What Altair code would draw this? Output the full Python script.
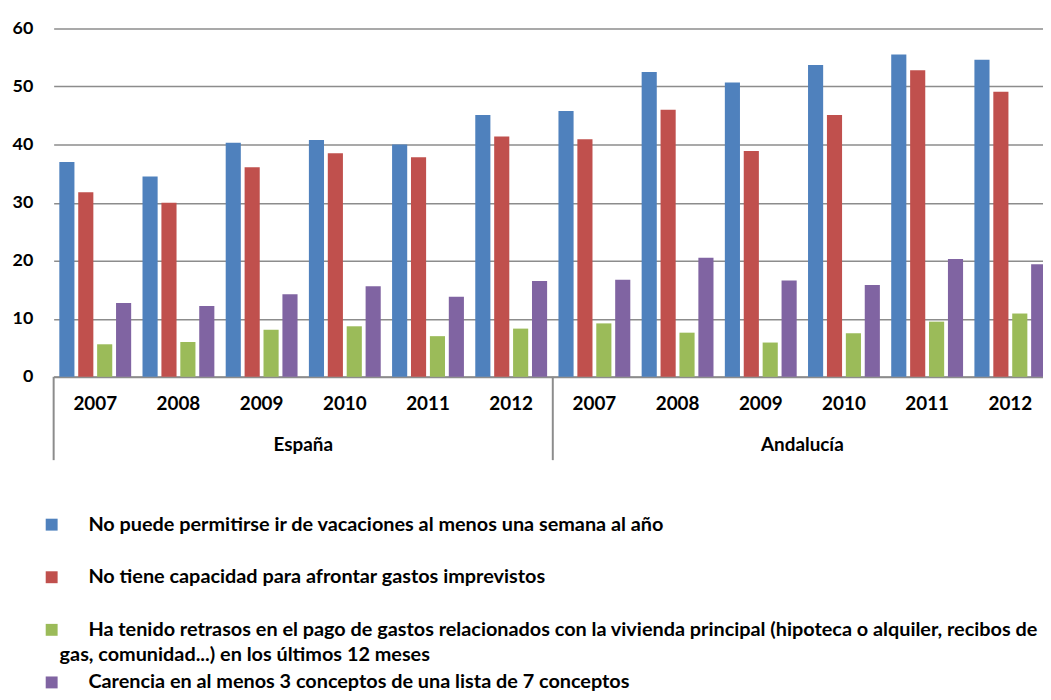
import altair as alt
import pandas as pd

regions = ["España", "Andalucía"]
years = ["2007", "2008", "2009", "2010", "2011", "2012"]
series = [
    "No puede permitirse ir de vacaciones al menos una semana al año",
    "No tiene capacidad para afrontar gastos imprevistos",
    "Ha tenido retrasos en el pago de gastos relacionados con la vivienda principal (hipoteca o alquiler, recibos de gas, comunidad...) en los últimos 12 meses",
    "Carencia en al menos 3 conceptos de una lista de 7 conceptos",
]
# values ordered España 2007..2012, Andalucía 2007..2012
vacaciones = [37.0, 34.5, 40.3, 40.8, 40.0, 45.1, 45.8, 52.5, 50.7, 53.7, 55.5, 54.6]
imprevistos = [31.8, 30.0, 36.1, 38.5, 37.8, 41.4, 40.9, 46.0, 38.9, 45.1, 52.8, 49.1]
retrasos = [5.6, 6.0, 8.1, 8.7, 7.0, 8.3, 9.2, 7.6, 5.9, 7.5, 9.5, 10.9]
carencia = [12.7, 12.2, 14.2, 15.6, 13.8, 16.5, 16.7, 20.5, 16.6, 15.8, 20.3, 19.4]
colors = ["#4F81BD", "#C0504D", "#9BBB59", "#8064A2"]
legend_wrap = "gas, comunidad...) en los últimos 12 meses"

keys = [f"{r}|{y}" for r in regions for y in years]
rows = []
for s, vals in zip(series, [vacaciones, imprevistos, retrasos, carencia]):
    for k, v in zip(keys, vals):
        rows.append({"key": k, "serie": s, "valor": v})
df = pd.DataFrame(rows)

FONT = "Lato"
GRID = "#8c8c8c"
W, H = 1006, 351

x_scale = alt.Scale(domain=keys, paddingInner=0, paddingOuter=0)

bars = alt.Chart(df).mark_bar().encode(
    x=alt.X(
        "key:N", scale=x_scale,
        axis=alt.Axis(
            title=None, labelExpr="split(datum.label, '|')[1]", ticks=False,
            domainColor=GRID, domainWidth=2, labelAngle=0,
            labelFont=FONT, labelFontWeight="bold", labelFontSize=19,
            labelPadding=18, labelColor="black",
        ),
    ),
    xOffset=alt.XOffset("serie:N", sort=series,
                        scale=alt.Scale(domain=series, paddingInner=0.2, paddingOuter=0.3)),
    y=alt.Y(
        "valor:Q", scale=alt.Scale(domain=[0, 60], nice=False),
        axis=alt.Axis(
            title=None, values=[0, 10, 20, 30, 40, 50, 60], domain=False, ticks=False,
            gridColor=GRID, gridWidth=1.5, gridOpacity=1,
            labelFont=FONT, labelFontWeight="bold", labelFontSize=18,
            labelPadding=21, labelColor="black",
        ),
    ),
    color=alt.Color(
        "serie:N", sort=series,
        scale=alt.Scale(domain=series, range=colors),
        legend=alt.Legend(
            orient="none", legendX=-12, legendY=490, title=None, padding=0,
            direction="vertical", symbolType="square", symbolSize=144,
            symbolStrokeWidth=0, labelFont=FONT, labelFontSize=20,
            labelFontWeight="bold", labelColor="black", labelOffset=27,
            rowPadding=33, labelLimit=2000,
            labelExpr="split(datum.label, ' gas, comunidad')[0]",
        ),
    ),
)

sep_df = pd.DataFrame({"key": [f"{r}|{years[0]}" for r in regions]})
seps = alt.Chart(sep_df).mark_rule(color=GRID, strokeWidth=2).encode(
    x=alt.X("key:N", scale=x_scale, bandPosition=0),
    y=alt.value(H),
    y2=alt.value(H + 84),
)

reg_df = pd.DataFrame({"key": [f"{r}|{years[3]}" for r in regions], "region": regions})
reg_labels = alt.Chart(reg_df).mark_text(
    font=FONT, fontSize=19, fontWeight="bold", color="black", baseline="middle"
).encode(
    x=alt.X("key:N", scale=x_scale, bandPosition=0),
    y=alt.value(H + 69),
    text="region:N",
)

wrap_df = pd.DataFrame({"t": [legend_wrap]})
wrap_text = alt.Chart(wrap_df).mark_text(
    font=FONT, fontSize=20, fontWeight="bold", color="black",
    align="left", baseline="middle",
).encode(x=alt.value(6), y=alt.value(631), text="t:N")

chart = alt.layer(bars, seps, reg_labels, wrap_text).properties(
    width=W, height=H,
    autosize=alt.AutoSizeParams(type="none"),
    padding={"left": 46, "top": 18, "right": -9, "bottom": 315},
).configure_view(stroke=None)

chart.save("out.html", embed_options={"renderer": "svg", "actions": False})
